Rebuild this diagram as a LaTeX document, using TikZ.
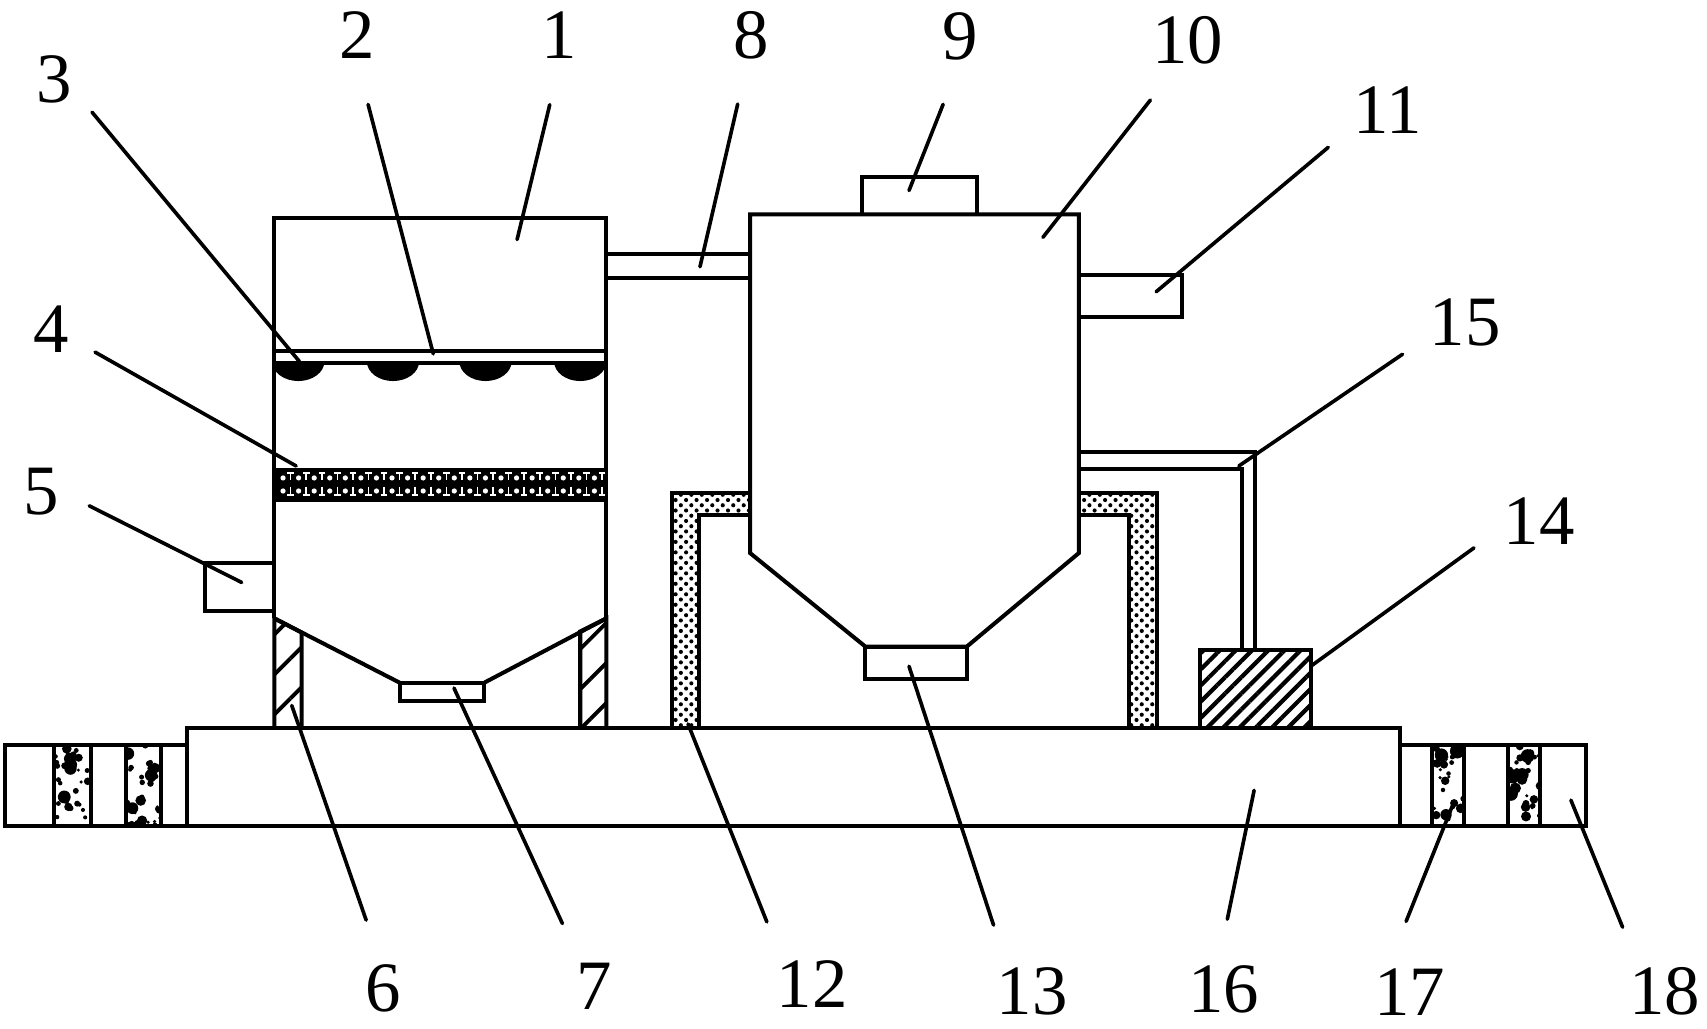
\documentclass[tikz,border=0pt]{standalone}
\usepackage{fontspec}
\setmainfont{Liberation Serif}
\usetikzlibrary{patterns.meta}
\tikzstyle{part} = [circle, inner sep = 0pt, minimum size = 1.28cm, font = \fontsize{18.5}{18.5}\selectfont]
\tikzstyle{nearpart} = [part, minimum size = 0.9cm]
\tikzstyle{farpart} = [part, minimum size = 1.4cm]
\tikzstyle{wall} = [line width = 1.05pt, line join = miter]
\tikzstyle{lead} = [line width = 0.95pt, line cap = round]
\tikzstyle{hatchleg} = [pattern = {Lines[angle = 45, distance = 2.6mm, line width = 1pt]}]
\tikzstyle{hatchbox} = [pattern = {Lines[angle = 45, distance = 1.05mm, line width = 1.1pt]}]
\tikzstyle{dotted wall} = [pattern = {Dots[angle = 45, distance = 0.68mm, radius = 0.19mm]}]
\newcommand{\porous}[2]{
    \begin{scope}
        \clip (#1,684) rectangle (#2,759);
        \foreach \i in {1,...,30}{
            \fill ({#1+rnd*(#2-#1)},{684+rnd*75}) circle[radius = {1.5+rnd*rnd*6}];
        }
    \end{scope}
    \draw[wall] (#1,684) -- (#1,759) (#2,684) -- (#2,759);
}
\begin{document}
\begin{tikzpicture}[x = 0.01cm, y = -0.01cm]
    \useasboundingbox (0,0) rectangle (1568,945.2);
    \pgfmathsetseed{7}

    \node(lab1)[part] at (514,32){1};
    \node(lab2)[part] at (328,32){2};
    \node(lab3)[nearpart] at (50,73){3};
    \node(lab4)[nearpart] at (47,302){4};
    \node(lab5)[nearpart] at (38,452){5};
    \node(lab6)[part] at (352,908){6};
    \node(lab7)[part] at (546,906){7};
    \node(lab8)[part] at (690,32){8};
    \node(lab9)[part] at (882,33){9};
    \node(lab10)[part] at (1091,37){10};
    \node(lab11)[part] at (1275,101){11};
    \node(lab12)[farpart] at (746,904){12};
    \node(lab13)[farpart] at (948,911){13};
    \node(lab14)[part] at (1414,479){14};
    \node(lab15)[part] at (1346,296){15};
    \node(lab16)[part] at (1124,909){16};
    \node(lab17)[part] at (1295,911){17};
    \node(lab18)[farpart] at (1529,911){18};

    \coordinate(end1) at (475,220);
    \coordinate(end2) at (398,325);
    \coordinate(end3) at (275,332);
    \coordinate(end4) at (272,428);
    \coordinate(end5) at (222,535);
    \coordinate(end6) at (268,648);
    \coordinate(end7) at (417,632);
    \coordinate(end8) at (643,245);
    \coordinate(end9) at (835,175);
    \coordinate(end10) at (958,218);
    \coordinate(end11) at (1062,268);
    \coordinate(end12) at (632,665);
    \coordinate(end13) at (835,612);
    \coordinate(end14) at (1204,612);
    \coordinate(end15) at (1138,428);
    \coordinate(end16) at (1152,726);
    \coordinate(end17) at (1335,738);
    \coordinate(end18) at (1443,735);

    \draw[wall, hatchleg] (252,568) -- (277,581) -- (277,669) -- (252,669) -- cycle;
    \draw[wall, hatchleg] (557,568) -- (533,580) -- (533,669) -- (557,669) -- cycle;
    \draw[wall] (252,568) -- (252,200) -- (557,200) -- (557,568);
    \draw[wall] (252,568) -- (367,627) (445,627) -- (557,568);
    \draw[wall] (367,627) rectangle (445,644);
    \draw[wall] (252,322) -- (557,322) (252,333) -- (557,333);
    \foreach \x in {274,361,446,533}{
        \fill (\x-24,332) arc[start angle = 180, end angle = 0, x radius = 24, y radius = 18] -- cycle;
    }
    \fill (252,430) rectangle (557,461);
    \foreach \x in {260,274.3,...,552}{
        \fill[white] (\x,439) circle[radius = 2.4] (\x,451) circle[radius = 2.4];
        \draw[white, line width = 0.4pt] (\x+7,434) -- (\x+7,441) (\x+7,447) -- (\x+7,455);
        \draw[white, line width = 0.6pt] (\x+4,434.5) -- (\x+10,434.5) (\x+4,454.5) -- (\x+10,454.5);
    }
    \draw[wall] (188,517) rectangle (252,561);
    \draw[wall] (557,233) -- (689,233) (557,255) -- (689,255);

    \draw[wall, dotted wall] (689,453) -- (617,453) -- (617,669) -- (642,669) -- (642,473) -- (689,473);
    \draw[wall, dotted wall] (991,453) -- (1063,453) -- (1063,669) -- (1037,669) -- (1037,473) -- (991,473);
    \draw[wall, fill = white] (689,197) -- (991,197) -- (991,508) -- (888,594) -- (795,594) -- (689,508) -- cycle;
    \draw[wall] (795,594) rectangle (888,624);
    \draw[wall] (792,197) -- (792,163) -- (897,163) -- (897,197);
    \draw[wall] (991,253) -- (1086,253) -- (1086,291) -- (991,291);
    \draw[wall] (991,415) -- (1153,415) -- (1153,597) (991,431) -- (1141,431) -- (1141,597);
    \draw[wall, hatchbox] (1102,597) rectangle (1204,669);

    \draw[wall] (5,684) rectangle (172,759);
    \draw[wall] (1286,684) rectangle (1457,759);
    \porous{50}{84}
    \porous{116}{148}
    \porous{1315}{1345}
    \porous{1385}{1415}
    \draw[wall, fill = white] (172,669) rectangle (1286,759);

    \foreach \n/\a in {1/-98,2/-81,3/-41,4/-28,5/-16,6/104,7/117,8/-101,9/-104,10/-122,11/-148,12/126,13/120,14/-158,15/-153,16/87,17/93,18/123}{
        \draw[lead] (lab\n.\a) -- (end\n);
    }
\end{tikzpicture}
\end{document}
